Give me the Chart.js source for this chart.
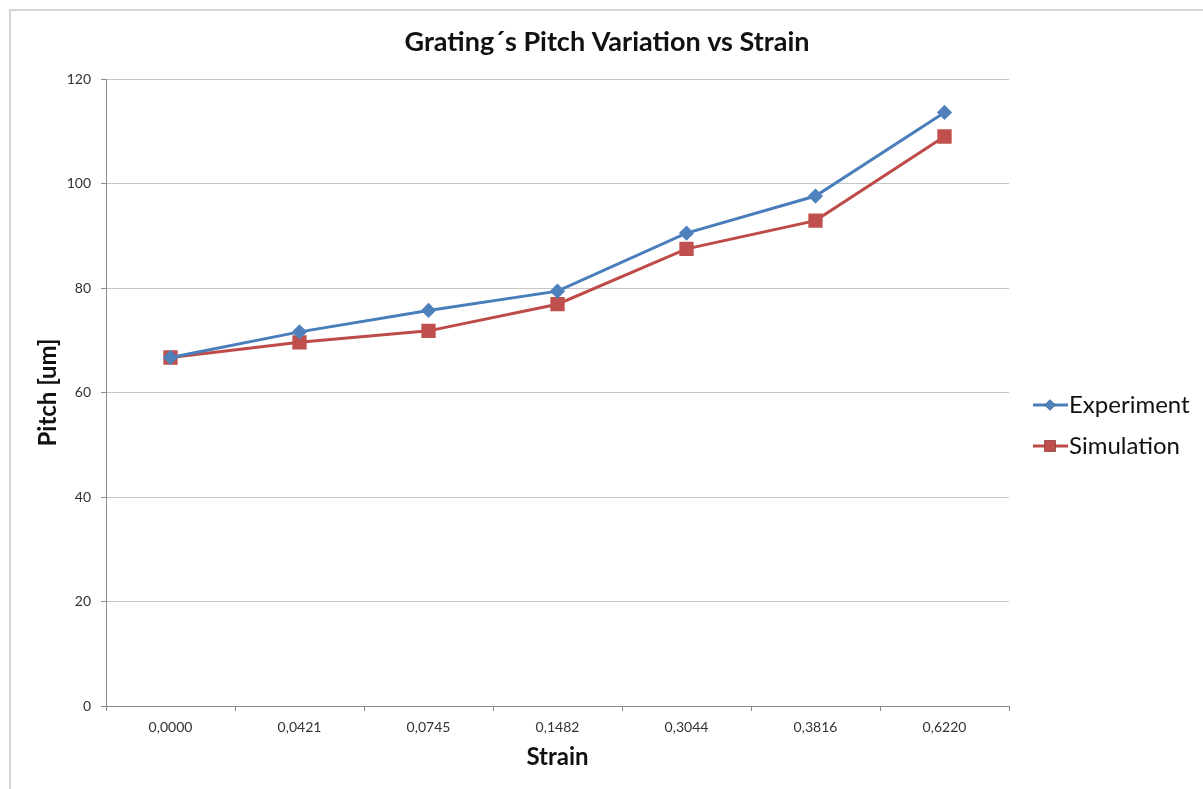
<!DOCTYPE html>
<html>
<head>
<meta charset="utf-8">
<script src="https://cdn.jsdelivr.net/npm/chart.js@4.4.1/dist/chart.umd.min.js"></script>
<style>
    html, body { margin: 0; padding: 0; background: #fff; }
    #wrap { position: relative; width: 1203px; height: 789px; overflow: hidden; }
    #frame { position: absolute; left: 9px; top: 9px; width: 1250px; height: 900px; border: 2px solid #d4d4d4; box-sizing: border-box; }
    canvas { position: absolute; left: 0; top: 0; }
</style>
</head>
<body>
<div id="wrap">
    <div id="frame"></div>
    <canvas id="pitchChart" width="1203" height="789"></canvas>
</div>
<script>
// Datos
const strainLabels = ['0,0000', '0,0421', '0,0745', '0,1482', '0,3044', '0,3816', '0,6220'];
const experimentValues = [66.7, 71.6, 75.7, 79.4, 90.5, 97.6, 113.6];
const simulationValues = [66.7, 69.6, 71.8, 76.9, 87.5, 92.9, 109.0];
const seriesNames = ['Experiment', 'Simulation'];
const chartTitle = 'Grating´s Pitch Variation vs Strain';

const FONT = 'Lato, "Liberation Sans", sans-serif';

// Título centrado en todo el lienzo y leyenda a la derecha (línea + marcador + texto)
const sideLegend = {
    id: 'sideLegend',
    afterDraw(chart) {
        const ctx = chart.ctx;
        ctx.save();
        ctx.fillStyle = '#111';
        ctx.font = 'bold 27px ' + FONT;
        ctx.textAlign = 'center';
        ctx.textBaseline = 'middle';
        ctx.fillText(chartTitle, 607, 42);
        ctx.restore();

        const rows = [405, 446];
        chart.data.datasets.forEach((ds, i) => {
            const y = rows[i];
            ctx.save();
            ctx.strokeStyle = ds.borderColor;
            ctx.lineWidth = 3;
            ctx.beginPath();
            ctx.moveTo(1033, y);
            ctx.lineTo(1068, y);
            ctx.stroke();
            Chart.helpers.drawPoint(ctx, {
                pointStyle: ds.pointStyle,
                radius: ds.pointRadius,
                borderWidth: 0
            }, 1050, y);
            ctx.fillStyle = ds.pointBackgroundColor;
            ctx.fill();
            ctx.fillStyle = '#111';
            ctx.font = '24px ' + FONT;
            ctx.textBaseline = 'middle';
            ctx.textAlign = 'left';
            ctx.fillText(ds.label, 1069, y);
            ctx.restore();
        });
    }
};

const ctx = document.getElementById('pitchChart').getContext('2d');
new Chart(ctx, {
    type: 'line',
    data: {
        labels: strainLabels,
        datasets: [
            {
                label: seriesNames[0],
                data: experimentValues,
                borderColor: '#4a7ebb',
                backgroundColor: '#4f81bd',
                pointBackgroundColor: '#4f81bd',
                pointBorderColor: '#4f81bd',
                pointStyle: 'rectRot',
                pointRadius: 5.5,
                borderWidth: 3,
                tension: 0
            },
            {
                label: seriesNames[1],
                data: simulationValues,
                borderColor: '#be4b48',
                backgroundColor: '#c0504d',
                pointBackgroundColor: '#c0504d',
                pointBorderColor: '#c0504d',
                pointStyle: 'rect',
                pointRadius: 8,
                borderWidth: 3,
                tension: 0
            }
        ]
    },
    options: {
        responsive: false,
        animation: false,
        layout: {
            padding: { left: 20, right: 194, top: 79, bottom: 10 }
        },
        plugins: {
            legend: { display: false },
            tooltip: { enabled: false },
            title: { display: false }
        },
        scales: {
            x: {
                offset: true,
                afterFit: (scale) => { scale.height = 73; },
                grid: {
                    offset: true,
                    drawOnChartArea: false,
                    drawTicks: true,
                    tickLength: 5,
                    color: '#8c8c8c'
                },
                border: { color: '#8c8c8c', width: 1 },
                ticks: {
                    color: '#333',
                    font: { family: FONT, size: 14 },
                    padding: 8,
                    maxRotation: 0
                },
                title: {
                    display: true,
                    text: 'Strain',
                    color: '#111',
                    font: { family: FONT, size: 24, weight: 'bold' },
                    padding: { top: 0, bottom: 7 }
                }
            },
            y: {
                min: 0,
                max: 120,
                afterFit: (scale) => { scale.width = 86; },
                grid: {
                    color: '#c6c6c6',
                    tickLength: 5,
                    tickColor: '#8c8c8c'
                },
                border: { color: '#8c8c8c', width: 1 },
                ticks: {
                    stepSize: 20,
                    color: '#333',
                    font: { family: FONT, size: 14 },
                    padding: 10
                },
                title: {
                    display: true,
                    text: 'Pitch [um]',
                    color: '#111',
                    font: { family: FONT, size: 24, weight: 'bold' },
                    padding: { top: 14, bottom: 0 }
                }
            }
        }
    },
    plugins: [sideLegend]
});
</script>
</body>
</html>
